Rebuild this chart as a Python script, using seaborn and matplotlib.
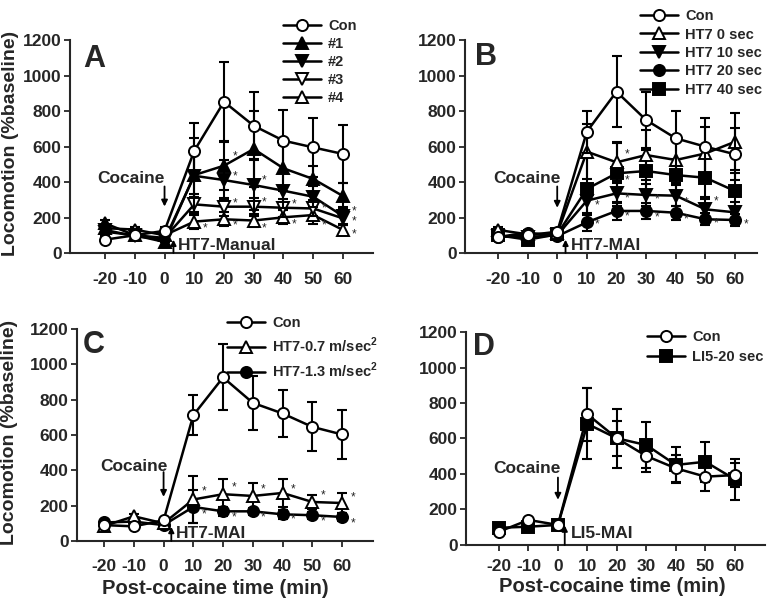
import matplotlib
matplotlib.use("Agg")
import matplotlib.pyplot as plt
import seaborn as sns
import numpy as np

# ---------------- data ----------------
times = [-20, -10, 0, 10, 20, 30, 40, 50, 60]

A_labels = ["Con", "#1", "#2", "#3", "#4"]
A_con = [75, 100, 125, 576, 852, 717, 633, 595, 558]
A_con_err = [20, 15, 20, 158, 225, 190, 171, 167, 163]
A_1 = [167, 100, 62, 439, 492, 586, 477, 417, 321]
A_1_err = [20, 15, 15, 210, 139, 216, 130, 73, 73]
A_2 = [130, 95, 75, 435, 411, 383, 351, 317, 208]
A_2_err = [20, 15, 15, 120, 113, 141, 100, 60, 53]
A_3 = [120, 100, 85, 274, 261, 261, 255, 251, 195]
A_3_err = [15, 15, 15, 60, 50, 50, 50, 45, 30]
A_4 = [140, 132, 100, 177, 190, 183, 201, 214, 130]
A_4_err = [15, 15, 15, 40, 40, 35, 40, 50, 30]

B_labels = ["Con", "HT7 0 sec", "HT7 10 sec", "HT7 20 sec", "HT7 40 sec"]
B_con = [90, 100, 120, 684, 909, 749, 646, 599, 556]
B_con_err = [15, 15, 15, 118, 200, 160, 156, 160, 146]
B_0 = [130, 105, 110, 571, 511, 552, 524, 561, 627]
B_0_err = [15, 15, 15, 156, 116, 141, 130, 150, 160]
B_10 = [95, 90, 100, 295, 336, 327, 323, 246, 229]
B_10_err = [15, 15, 15, 80, 70, 60, 60, 60, 60]
B_20 = [90, 115, 95, 173, 237, 237, 227, 190, 186]
B_20_err = [15, 15, 15, 50, 50, 45, 40, 35, 35]
B_40 = [100, 75, 105, 361, 449, 462, 439, 424, 349]
B_40_err = [15, 15, 15, 180, 170, 120, 90, 110, 100]

C_labels = ["Con", r"HT7-0.7 m/sec$^{\mathbf{2}}$", r"HT7-1.3 m/sec$^{\mathbf{2}}$"]
C_con = [90, 83, 117, 712, 926, 782, 722, 646, 603]
C_con_err = [15, 15, 15, 114, 187, 152, 131, 139, 138]
C_07 = [85, 140, 100, 235, 265, 255, 272, 221, 215]
C_07_err = [15, 15, 15, 132, 85, 76, 78, 42, 59]
C_13 = [105, 110, 90, 193, 168, 168, 151, 146, 136]
C_13_err = [15, 15, 15, 93, 25, 20, 25, 20, 20]

D_labels = ["Con", "LI5-20 sec"]
D_con = [75, 141, 113, 736, 601, 501, 432, 385, 394]
D_con_err = [10, 10, 10, 150, 100, 90, 75, 79, 66]
D_li5 = [97, 103, 113, 682, 601, 563, 451, 469, 370]
D_li5_err = [10, 10, 10, 200, 165, 132, 99, 113, 115]

# significance stars: (time index, vertical offset of the star) per series
A_stars = [[], [(4, 50)], [(4, 18), (5, 24), (8, 28)],
           [(4, 20), (5, 23), (6, 19), (7, 0), (8, -18)],
           [(3, -38), (4, -32), (5, -44), (6, -38), (7, -60), (8, -24)]]
B_stars = [[], [(4, 47)],
           [(3, -25), (4, -26), (5, -23), (6, -40), (7, 43)],
           [(3, -10), (4, -32), (5, -38), (6, -37), (7, -23), (8, -23)],
           [(4, -38)]]
C_stars = [[], [(3, 48), (4, 41), (5, 38), (6, 21), (7, 38), (8, 31)],
           [(3, -43), (4, -35), (5, -35), (6, -30), (7, -33), (8, -34)]]
D_stars = [[], []]

# ---------------- style ----------------
sns.set_style("ticks")
plt.rcParams["font.family"] = ["Liberation Sans", "DejaVu Sans"]
plt.rcParams["font.weight"] = "bold"
plt.rcParams["axes.labelweight"] = "bold"
plt.rcParams["mathtext.fontset"] = "custom"
plt.rcParams["mathtext.rm"] = "Liberation Sans"
plt.rcParams["mathtext.bf"] = "Liberation Sans:bold"

fig = plt.figure(figsize=(7.74, 6.12), dpi=100)

axA = fig.add_axes([0.0904, 0.5866, 0.3915, 0.348])
axB = fig.add_axes([0.6008, 0.5866, 0.3773, 0.348])
axC = fig.add_axes([0.0995, 0.1160, 0.3824, 0.3464])
axD = fig.add_axes([0.6020, 0.1095, 0.3863, 0.3480])

STYLES = {
    "o_open": dict(marker="o", markerfacecolor="white"),
    "o_fill": dict(marker="o", markerfacecolor="black"),
    "^_open": dict(marker="^", markerfacecolor="white"),
    "^_fill": dict(marker="^", markerfacecolor="black"),
    "v_open": dict(marker="v", markerfacecolor="white"),
    "v_fill": dict(marker="v", markerfacecolor="black"),
    "s_fill": dict(marker="s", markerfacecolor="black"),
}


def draw_panel(ax, series, errs, labels, styles, stars, letter, xlim,
               legend_anchor, legend_spacing, cocaine_xy, cocaine_arrow, tag_text,
               tag_xy, tag_arrow_x, tag_arrow_top, xpad):
    n = len(series)
    for i in reversed(range(n)):
        z = 3 + (n - i)
        ax.errorbar(times, series[i], yerr=errs[i], fmt="none", ecolor="black",
                    elinewidth=1.5, capsize=3.5, capthick=1.5, zorder=z)
        sns.lineplot(x=times, y=series[i], ax=ax, color="black", linewidth=1.8,
                     markersize=8, markeredgecolor="black", markeredgewidth=1.4,
                     label=labels[i], zorder=z + 0.5, **STYLES[styles[i]])
    lines = ax.get_lines()
    lab2line = {l.get_label(): l for l in lines}
    handles = [lab2line[lb] for lb in labels]
    for i in range(n):
        for k, dy in stars[i]:
            ax.text(times[k] + 2.8, series[i][k] + dy, "*", fontsize=8.5,
                    fontweight="normal", ha="left", va="center", zorder=20)
    ax.legend(handles, labels, loc="upper left", bbox_to_anchor=legend_anchor,
              frameon=False, prop=dict(weight="bold", size=10.5), handlelength=2.6,
              labelspacing=legend_spacing, borderpad=0, borderaxespad=0,
              handletextpad=0.5)
    ax.set_xlim(*xlim)
    ax.set_ylim(0, 1200)
    ax.set_xticks(times)
    ax.set_xticklabels([str(t) for t in times])
    ax.set_yticks([0, 200, 400, 600, 800, 1000, 1200])
    sns.despine(ax=ax)
    for s in ["left", "bottom"]:
        ax.spines[s].set_linewidth(1.5)
    ax.tick_params(axis="both", direction="out", length=4, width=1.3,
                   labelsize=12.5)
    ax.tick_params(axis="x", pad=xpad)
    ax.tick_params(axis="y", pad=2)
    for t in ax.get_xticklabels() + ax.get_yticklabels():
        t.set_fontweight("bold")
    ax.text(*letter[1:], letter[0], transform=ax.transAxes, fontsize=22,
            fontweight="bold", ha="left", va="baseline")
    # Cocaine annotation
    ax.text(cocaine_xy[0], cocaine_xy[1], "Cocaine", fontsize=12.5,
            fontweight="bold", ha="center", va="center")
    ax.annotate("", xy=(0, cocaine_arrow[1]), xytext=(0, cocaine_arrow[0]),
                arrowprops=dict(arrowstyle="-|>", color="black", lw=1.3,
                                mutation_scale=9, shrinkA=0, shrinkB=0))
    ax.text(tag_xy[0], tag_xy[1], tag_text, fontsize=12.5, fontweight="bold",
            ha="left", va="center", zorder=25)
    ax.annotate("", xy=(tag_arrow_x, tag_arrow_top), xytext=(tag_arrow_x, 0),
                arrowprops=dict(arrowstyle="-|>", color="black", lw=1.3,
                                mutation_scale=8, shrinkA=0, shrinkB=0),
                zorder=25)


draw_panel(axA, [A_con, A_1, A_2, A_3, A_4],
           [A_con_err, A_1_err, A_2_err, A_3_err, A_4_err],
           A_labels, ["o_open", "^_fill", "v_fill", "v_open", "^_open"],
           A_stars,
           ("A", 0.043, 0.873), (-31.8, 70.1), (0.703, 1.097), 0.27,
           (-11.3, 421), (375, 262), "HT7-Manual", (4.5, 40), 3.0, 75, 10)

draw_panel(axB, [B_con, B_0, B_10, B_20, B_40],
           [B_con_err, B_0_err, B_10_err, B_20_err, B_40_err],
           B_labels, ["o_open", "^_open", "v_fill", "o_fill", "s_fill"],
           B_stars,
           ("B", 0.034, 0.883), (-31.1, 67.4), (0.60, 1.145), 0.3,
           (-10.2, 421), (375, 255), "HT7-MAI", (4.7, 42), 2.8, 75, 10)

draw_panel(axC, [C_con, C_07, C_13], [C_con_err, C_07_err, C_13_err],
           C_labels, ["o_open", "^_open", "o_fill"],
           C_stars,
           ("C", 0.02, 0.887), (-29.1, 70.4), (0.507, 1.06), 0.38,
           (-9.9, 420), (390, 250), "HT7-MAI", (4.2, 44), 2.6, 80, 9)

draw_panel(axD, [D_con, D_li5], [D_con_err, D_li5_err],
           D_labels, ["o_open", "s_fill"],
           D_stars,
           ("D", 0.024, 0.892), (-31.2, 70.2), (0.605, 1.01), 0.4,
           (-10.5, 432), (380, 255), "LI5-MAI", (4.4, 67), 2.3, 110, 6)

axA.set_ylabel("Locomotion (%baseline)", fontsize=14, fontweight="bold")
axA.yaxis.set_label_coords(-0.168, 0.516)
axC.set_ylabel("Locomotion (%baseline)", fontsize=14, fontweight="bold")
axC.yaxis.set_label_coords(-0.20, 0.51)
for ax in (axA, axB, axC, axD):
    if ax not in (axA, axC):
        ax.set_ylabel("")
    ax.set_xlabel("")
axC.set_xlabel("Post-cocaine time (min)", fontsize=14.5, fontweight="bold")
axC.xaxis.set_label_coords(0.466, -0.18)
axC.xaxis.label.set_va("top")
axD.set_xlabel("Post-cocaine time (min)", fontsize=14.5, fontweight="bold")
axD.xaxis.set_label_coords(0.49, -0.15)
axD.xaxis.label.set_va("top")

fig.savefig("out.png", dpi=100)
